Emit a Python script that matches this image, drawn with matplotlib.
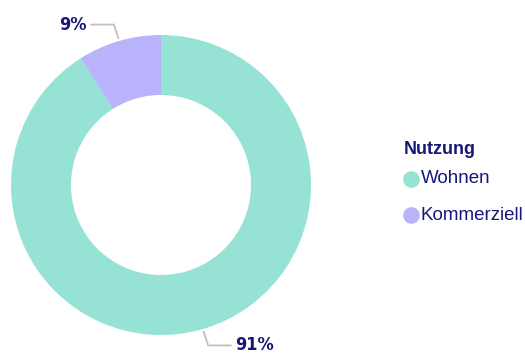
import numpy as np
import matplotlib.pyplot as plt
from matplotlib.lines import Line2D

labels = ['Wohnen', 'Kommerziell']
shares = [91, 9]
colors = ['#96e3d6', '#b8b3fa']
legend_title = 'Nutzung'
navy = '#17177a'
leader = '#c9bfb2'

W, H = 525, 354
fig = plt.figure(figsize=(W / 100, H / 100), dpi=100)
# donut axes: 300px square, center at (161, 185) from top-left
ax = fig.add_axes([11 / W, 19 / H, 300 / W, 300 / H])
wedges, _ = ax.pie(shares, colors=colors, startangle=90, counterclock=False,
                   radius=1.0, wedgeprops=dict(width=0.4, linewidth=0))
ax.set_xlim(-1, 1)
ax.set_ylim(-1, 1)
ax.set_aspect('equal')
ax.axis('off')

# value labels with elbow leader lines
for w, val in zip(wedges, shares):
    mid = np.deg2rad((w.theta1 + w.theta2) / 2)
    x0, y0 = np.cos(mid) * 1.02, np.sin(mid) * 1.02
    sign = 1 if x0 > 0 else -1
    yk = y0 + 0.09 * np.sign(y0)
    xk = x0 + 0.03 * sign
    xe = xk + 0.15 * sign
    ax.plot([x0, xk, xe], [y0, yk, yk], color=leader, lw=1.3, clip_on=False)
    ax.text(xe + 0.03 * sign, yk, f'{val}%', ha='left' if sign > 0 else 'right',
            va='center', fontsize=13, fontweight='bold', color=navy,
            family='DejaVu Sans', fontstretch='condensed')

# legend drawn by hand in pixel positions
def px(x, y):
    return x / W, 1 - y / H

fig.text(*px(404, 150), legend_title, ha='left', va='center', fontsize=13,
         fontweight='bold', color=navy, family='Liberation Sans')
for i, (lab, c) in enumerate(zip(labels, colors)):
    ly = 179 + 36 * i
    fig.add_artist(Line2D([px(411, ly)[0]], [px(411, ly)[1]], marker='o',
                          markersize=12, markerfacecolor=c,
                          markeredgecolor='none', transform=fig.transFigure))
    fig.text(*px(421, ly), lab, ha='left', va='center', fontsize=13.5,
             color=navy, family='Liberation Sans')

fig.savefig('out.png', dpi=100)
